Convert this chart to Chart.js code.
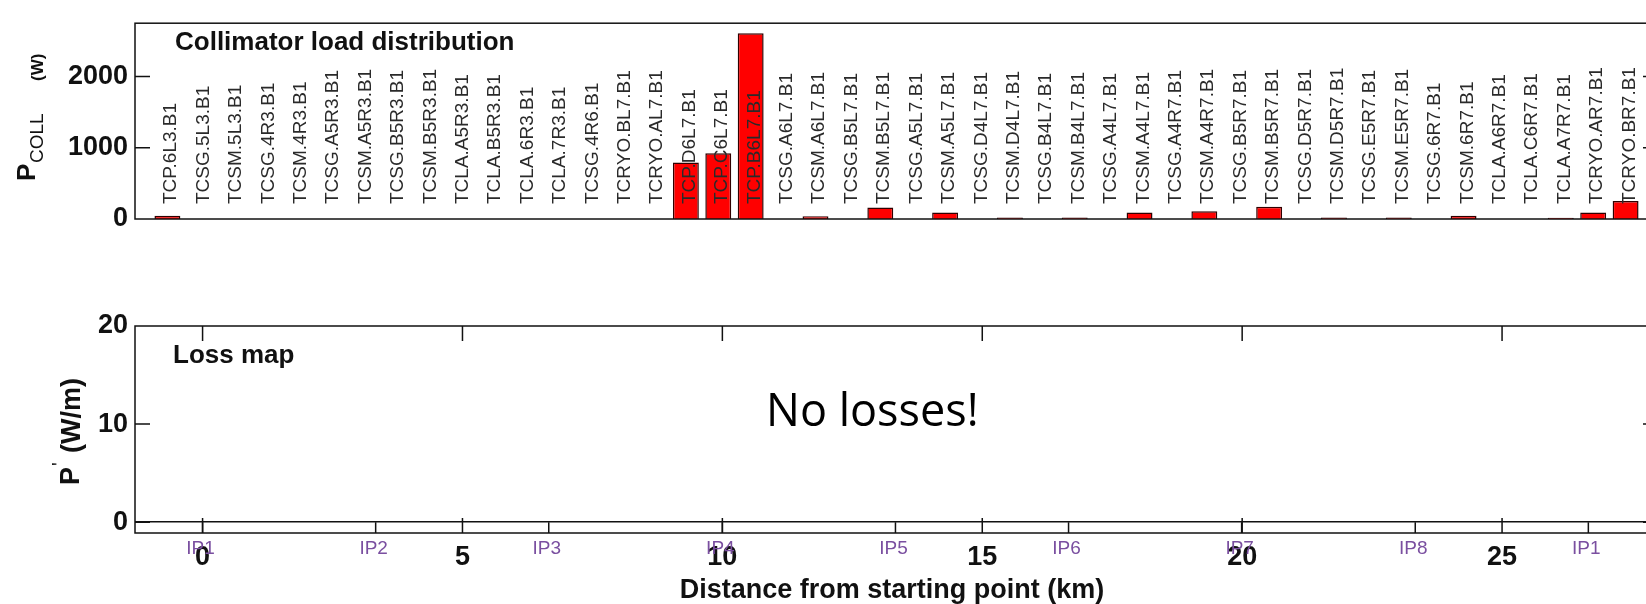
<!DOCTYPE html>
<html>
<head>
<meta charset="utf-8">
<title>Collimator load distribution</title>
<script src="https://cdn.jsdelivr.net/npm/chart.js@4.4.1/dist/chart.umd.min.js"></script>
<style>
  html, body { margin: 0; padding: 0; background: #fff; overflow: hidden; }
  #wrap { position: relative; width: 1646px; height: 604px; overflow: hidden; }
  canvas { position: absolute; left: 0; }
  #loadChart { top: 0; }
  #lossChart { top: 260px; }
</style>
</head>
<body>
<div id="wrap">
  <canvas id="loadChart" width="1660" height="260"></canvas>
  <canvas id="lossChart" width="1660" height="344"></canvas>
</div>
<script>
// ---- data ----
const collimators = [
  'TCP.6L3.B1', 'TCSG.5L3.B1', 'TCSM.5L3.B1', 'TCSG.4R3.B1', 'TCSM.4R3.B1',
  'TCSG.A5R3.B1', 'TCSM.A5R3.B1', 'TCSG.B5R3.B1', 'TCSM.B5R3.B1', 'TCLA.A5R3.B1',
  'TCLA.B5R3.B1', 'TCLA.6R3.B1', 'TCLA.7R3.B1', 'TCSG.4R6.B1', 'TCRYO.BL7.B1',
  'TCRYO.AL7.B1', 'TCP.D6L7.B1', 'TCP.C6L7.B1', 'TCP.B6L7.B1', 'TCSG.A6L7.B1',
  'TCSM.A6L7.B1', 'TCSG.B5L7.B1', 'TCSM.B5L7.B1', 'TCSG.A5L7.B1', 'TCSM.A5L7.B1',
  'TCSG.D4L7.B1', 'TCSM.D4L7.B1', 'TCSG.B4L7.B1', 'TCSM.B4L7.B1', 'TCSG.A4L7.B1',
  'TCSM.A4L7.B1', 'TCSG.A4R7.B1', 'TCSM.A4R7.B1', 'TCSG.B5R7.B1', 'TCSM.B5R7.B1',
  'TCSG.D5R7.B1', 'TCSM.D5R7.B1', 'TCSG.E5R7.B1', 'TCSM.E5R7.B1', 'TCSG.6R7.B1',
  'TCSM.6R7.B1', 'TCLA.A6R7.B1', 'TCLA.C6R7.B1', 'TCLA.A7R7.B1', 'TCRYO.AR7.B1',
  'TCRYO.BR7.B1'
];
// power on each collimator (W)
const collLoad = [
  44, 0, 0, 0, 0, 0, 0, 0, 0, 0,
  0, 0, 0, 0, 0, 0, 795, 922, 2610, 0,
  40, 0, 160, 0, 90, 0, 22, 0, 22, 0,
  90, 0, 110, 0, 173, 0, 22, 0, 22, 0,
  44, 0, 0, 18, 90, 252
];
const loadTicks = [0, 1000, 2000];

// loss map: nothing to plot
const lossMap = [];
const lossTicks = [0, 10, 20];
const distanceTicks = [0, 5, 10, 15, 20, 25];
const ipNames = ['IP1', 'IP2', 'IP3', 'IP4', 'IP5', 'IP6', 'IP7', 'IP8', 'IP1'];
const ipPositions = [0, 3.33, 6.66, 10.0, 13.33, 16.66, 19.99, 23.33, 26.66];

const FONT = "'Liberation Sans', Arial, Helvetica, sans-serif";
const INK = '#111';

// draw text rotated to read bottom-to-top, baseline at x
function vtext(ctx, str, x, y, font, color) {
  ctx.save();
  ctx.translate(x, y);
  ctx.rotate(-Math.PI / 2);
  ctx.font = font;
  ctx.fillStyle = color;
  ctx.textAlign = 'left';
  ctx.textBaseline = 'alphabetic';
  ctx.fillText(str, 0, 0);
  ctx.restore();
}

// matlab style box with inward ticks on all four sides
function framePlugin(xVals, yVals) {
  return {
    id: 'frame',
    afterDraw(chart) {
      const { ctx, chartArea: a, scales } = chart;
      ctx.save();
      ctx.strokeStyle = INK;
      ctx.lineWidth = 1.5;
      ctx.strokeRect(a.left, a.top, a.right - a.left, a.bottom - a.top);
      ctx.beginPath();
      yVals.forEach(v => {
        const y = scales.y.getPixelForValue(v);
        if (y < a.top + 3 || y > a.bottom - 3) return;
        ctx.moveTo(a.left, y); ctx.lineTo(a.left + 15, y);
        ctx.moveTo(a.right, y); ctx.lineTo(a.right - 15, y);
      });
      xVals.forEach(v => {
        const x = scales.x.getPixelForValue(v);
        ctx.moveTo(x, a.top); ctx.lineTo(x, a.top + 15);
        ctx.moveTo(x, a.bottom); ctx.lineTo(x, a.bottom - 15);
      });
      ctx.stroke();
      ctx.restore();
    }
  };
}

// ---- top: collimator load distribution ----
const loadLabels = {
  id: 'loadLabels',
  afterDatasetsDraw(chart) {
    const { ctx, scales } = chart;
    collimators.forEach((name, i) => {
      const x = scales.x.getPixelForValue(i + 1);
      vtext(ctx, name, x + 9, 204, '19px ' + FONT, '#2a2a2a');
    });
  },
  afterDraw(chart) {
    const ctx = chart.ctx;
    ctx.save();
    ctx.font = 'bold 26px ' + FONT;
    ctx.fillStyle = INK;
    ctx.textBaseline = 'alphabetic';
    ctx.fillText('Collimator load distribution', 175, 50);
    ctx.restore();
    // y title: P with subscript COLL (W)
    vtext(ctx, 'P', 35, 181, 'bold 26px ' + FONT, INK);
    vtext(ctx, 'COLL', 43, 163, '19px ' + FONT, INK);
    vtext(ctx, '(W)', 43, 81, 'bold 17px ' + FONT, INK);
  }
};

new Chart(document.getElementById('loadChart'), {
  type: 'bar',
  data: {
    datasets: [{
      label: 'P_COLL',
      data: collLoad.map((v, i) => ({ x: i + 1, y: v })),
      backgroundColor: '#ff0000',
      borderColor: '#300000',
      borderWidth: 1.5,
      barPercentage: 0.8,
      categoryPercentage: 1.0
    }]
  },
  options: {
    responsive: false,
    animation: false,
    layout: { padding: { left: 0, right: 2, top: 12, bottom: 41 } },
    plugins: { legend: { display: false }, tooltip: { enabled: false } },
    scales: {
      x: {
        type: 'linear',
        min: 0,
        max: 47,
        offset: false,
        display: false
      },
      y: {
        min: 0,
        max: 2750,
        afterBuildTicks: s => { s.ticks = loadTicks.map(v => ({ value: v })); },
        afterFit: s => { s.width = 135; },
        grid: { display: false, drawTicks: false },
        border: { display: false },
        ticks: {
          padding: 7,
          color: INK,
          font: { family: FONT, size: 27, weight: 'bold' },
          callback: v => String(v)
        }
      }
    }
  },
  plugins: [loadLabels, framePlugin([], loadTicks)]
});

// ---- bottom: loss map ----
const lossText = {
  id: 'lossText',
  afterDraw(chart) {
    const { ctx, scales, chartArea: a } = chart;
    ctx.save();
    // IP markers between the zero line and the bottom axis
    ctx.strokeStyle = INK;
    ctx.lineWidth = 1.5;
    ctx.beginPath();
    const y0 = scales.y.getPixelForValue(0);
    ipPositions.forEach(p => {
      const x = scales.x.getPixelForValue(p);
      ctx.moveTo(x, y0); ctx.lineTo(x, a.bottom);
    });
    ctx.stroke();

    ctx.font = '19px ' + FONT;
    ctx.fillStyle = '#7a4fa0';
    ctx.textAlign = 'center';
    ctx.textBaseline = 'middle';
    ipPositions.forEach((p, i) => {
      ctx.fillText(ipNames[i], scales.x.getPixelForValue(p) - 2, 289);
    });

    ctx.fillStyle = INK;
    ctx.textAlign = 'left';
    ctx.textBaseline = 'alphabetic';
    ctx.font = 'bold 26px ' + FONT;
    ctx.fillText('Loss map', 173, 103);

    ctx.fillStyle = '#000';
    ctx.font = "45px 'Open Sans', 'Noto Sans', sans-serif";
    ctx.fillText('No losses!', 766, 166);

    ctx.fillStyle = INK;
    ctx.textAlign = 'center';
    ctx.textBaseline = 'middle';
    ctx.font = 'bold 27px ' + FONT;
    ctx.fillText('Distance from starting point (km)', 892, 331);
    ctx.restore();

    // y title: P' (W/m)
    vtext(ctx, 'P', 79, 225, 'bold 27px ' + FONT, INK);
    vtext(ctx, "'", 66, 206, '20px ' + FONT, INK);
    vtext(ctx, '(W/m)', 80, 193, 'bold 27px ' + FONT, INK);
  }
};

new Chart(document.getElementById('lossChart'), {
  type: 'scatter',
  data: {
    datasets: [{
      label: 'loss',
      data: lossMap,
      borderColor: '#000',
      showLine: true,
      pointRadius: 0
    }]
  },
  options: {
    responsive: false,
    animation: false,
    layout: { padding: { left: 0, right: 2, top: 66, bottom: 0 } },
    plugins: { legend: { display: false }, tooltip: { enabled: false } },
    scales: {
      x: {
        type: 'linear',
        min: -1.3,
        max: 28,
        afterBuildTicks: s => { s.ticks = distanceTicks.map(v => ({ value: v })); },
        afterFit: s => { s.height = 71; },
        grid: { display: false, drawTicks: false },
        border: { display: false },
        ticks: {
          padding: 8,
          color: INK,
          font: { family: FONT, size: 27, weight: 'bold' }
        }
      },
      y: {
        min: -1.1,
        max: 20,
        afterBuildTicks: s => { s.ticks = lossTicks.map(v => ({ value: v })); },
        afterFit: s => { s.width = 135; },
        grid: {
          drawTicks: false,
          lineWidth: 1.5,
          color: c => (c.tick && c.tick.value === 0 ? INK : 'rgba(0,0,0,0)')
        },
        border: { display: false },
        ticks: {
          padding: 7,
          color: INK,
          font: { family: FONT, size: 27, weight: 'bold' }
        }
      }
    }
  },
  plugins: [lossText, framePlugin(distanceTicks, lossTicks)]
});
</script>
</body>
</html>
